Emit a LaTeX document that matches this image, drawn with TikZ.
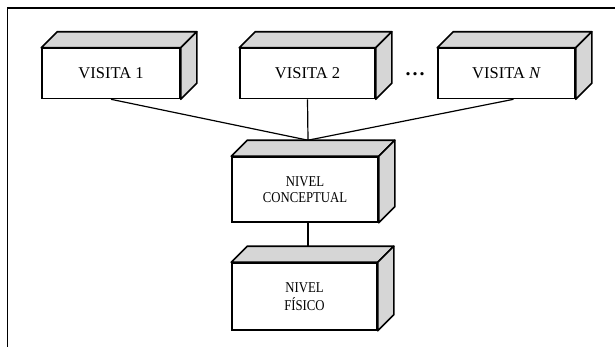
\documentclass[tikz,border=0pt]{standalone}
\usepackage{fontspec}
\setmainfont{Liberation Serif}
\usetikzlibrary{calc}
\tikzset{
  frontbox/.style={draw, line width=1.6pt, fill=white, inner sep=0pt,
    align=center, font=\fontsize{16.5}{18}\selectfont},
  levelbox/.style={frontbox, font=\fontsize{15}{16.5}\selectfont},
  face/.style={draw, line width=1.6pt, fill=black!16, line join=round},
  link/.style={line width=1.2pt},
  frame/.style={line width=1.8pt}
}
\begin{document}
\begin{tikzpicture}[x=1pt, y=-1pt]
  \useasboundingbox (0,0) rectangle (615,346);
  % outer frame (only the left and top edges fall inside the page)
  \draw[frame] (7.5,350) -- (7.5,8) -- (620,8);

  % front faces of the blocks
  \node[frontbox, minimum width=138pt, minimum height=50pt] (v1) at (111,73.5) {VISITA 1};
  \node[frontbox, minimum width=135pt, minimum height=50pt] (v2) at (307.5,73.5) {VISITA 2};
  \node[frontbox, minimum width=137pt, minimum height=50pt] (vn) at (506.5,73.5) {VISITA \textit{N}};
  \node[levelbox, minimum width=146pt, minimum height=65pt] (nc) at (305,189.5)
    {\scalebox{0.85}[1]{NIVEL}\\\scalebox{0.85}[1]{CONCEPTUAL}};
  \node[levelbox, minimum width=145pt, minimum height=67pt] (nf) at (304.5,296.5)
    {\scalebox{0.85}[1]{NIVEL}\\[1pt]\scalebox{0.85}[1]{FÍSICO}};
  \node[font=\fontsize{20}{22}\selectfont\bfseries] (dots) at (415,74) {.\kern2pt.\kern2pt.};

  % top and right faces of each block
  \foreach \n in {v1,v2,vn,nc,nf} {
    \filldraw[face] (\n.north west) -- ++(16,-16) -- ($(\n.north east)+(16,-16)$)
      -- (\n.north east) -- cycle;
    \filldraw[face] (\n.north east) -- ++(16,-16) -- ($(\n.south east)+(16,-16)$)
      -- (\n.south east) -- cycle;
  }

  % meeting points on the back edges of the lower blocks
  \coordinate (hub) at ($(nc.north)+(3,-16)$);
  \coordinate (hubf) at ($(nf.north)+(3.5,-16)$);

  % connectors
  \draw[link] (v1.south) -- (hub);
  \draw[link] (v2.south) -- (hub);
  \draw[link] ([xshift=7pt]vn.south) -- (hub);
  \draw[link] (nc.south -| hubf) -- (hubf);
\end{tikzpicture}
\end{document}
